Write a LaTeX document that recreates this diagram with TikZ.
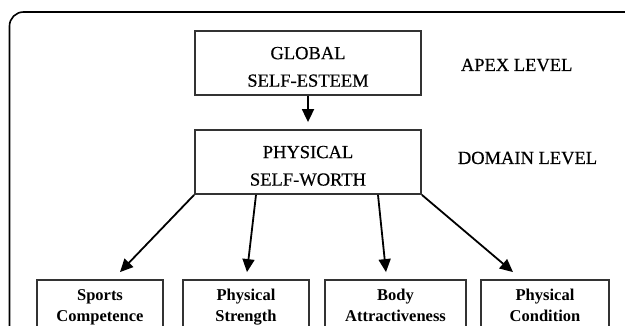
\documentclass[tikz,border=0pt]{standalone}
\usepackage{fontspec}
\setmainfont{Liberation Serif}
\newfontfamily\heavyserif[FakeBold=0.5]{Liberation Serif}
\usetikzlibrary{arrows.meta}

\def\toppad{\rule{0pt}{20pt}}
\def\lowpad{\rule[-4.5pt]{0pt}{4.5pt}}

\begin{document}
\begin{tikzpicture}[x=1pt,y=-1pt,line width=1.8pt,
    -{Triangle[length=13pt,width=12pt]}]
    \tikzstyle{level box}=[draw=black!80,rectangle,align=center,inner sep=0pt,
        minimum width=226pt,minimum height=64pt,
        font=\heavyserif\fontsize{18.5}{27.5}\selectfont]
    \tikzstyle{facet box}=[draw=black!80,rectangle,align=center,inner sep=0pt,
        minimum height=56pt,font=\fontsize{16.5}{21}\selectfont\bfseries]
    \tikzstyle{annot}=[anchor=base west,inner sep=0pt,
        font=\heavyserif\fontsize{18.5}{22}\selectfont]

    \useasboundingbox (0,0) rectangle (625,326);
    \clip (0,0) rectangle (625,326);

    % Outer frame
    \draw[-,line width=1.6pt,rounded corners=14pt] (9.5,12) rectangle (700,420);

    % Draw the apex and domain level boxes
    \node[level box] (GSE) at (308,63) {\toppad GLOBAL\\SELF-ESTEEM};
    \node[level box] (PSW) at (308,162) {\toppad PHYSICAL\\SELF-WORTH};

    % Draw the sub-domain boxes
    \foreach \name / \x / \w / \txt in {SC/100/126/Sports\\Competence,
                                        PS/246/126/Physical\\Strength,
                                        BA/395.5/141/Body\\Attractiveness,
                                        PC/545/128/Physical\\Condition}
        \node[facet box,minimum width=\w pt] (\name) at (\x,308) {\txt\lowpad};

    % Connect apex with domain
    \path (GSE) edge ([yshift=7pt]PSW.north);

    % Connect domain with every sub-domain
    \draw (PSW.south west) -- ([xshift=20pt,yshift=7pt]SC.north);
    \draw ([xshift=-52pt]PSW.south) -- ([xshift=1pt,yshift=7pt]PS.north);
    \draw ([xshift=70pt]PSW.south) -- ([xshift=-9.5pt,yshift=7pt]BA.north);
    \draw (PSW.south east) -- ([xshift=-32pt,yshift=7pt]PC.north);

    % Annotate the levels
    \node[annot] (apex) at (460,71) {APEX LEVEL};
    \node[annot] (domain) at (457,164) {DOMAIN LEVEL};
\end{tikzpicture}
\end{document}
